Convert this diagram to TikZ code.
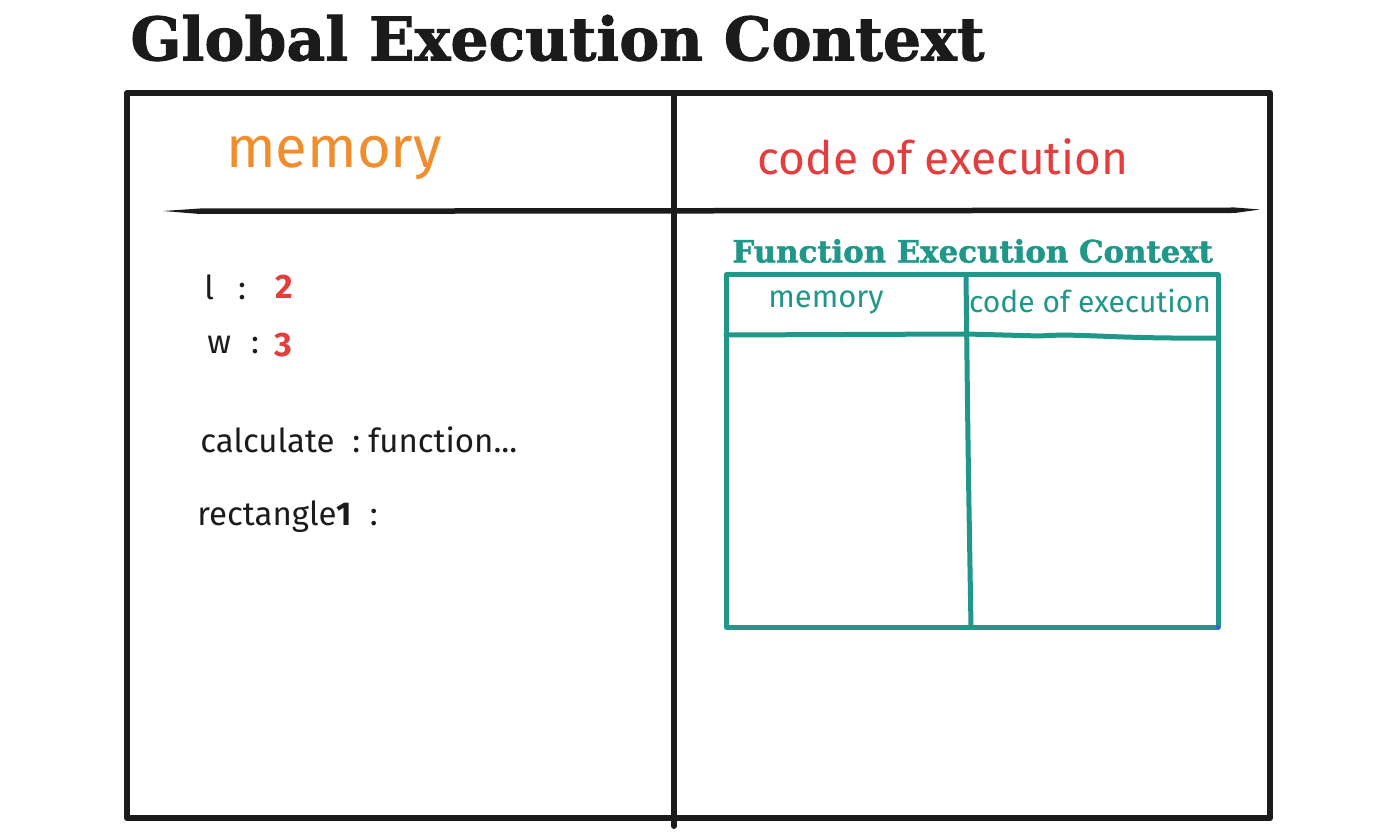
\documentclass[tikz,border=0pt]{standalone}
\usepackage{fontspec}
\setmainfont{Fira Sans}
\newfontfamily\slabfont[FakeBold=1.5]{DejaVu Serif Bold}
\usepackage{tikz}
\definecolor{inkblack}{HTML}{1B1B1B}
\definecolor{memorange}{HTML}{F08E2E}
\definecolor{codered}{HTML}{E43D3D}
\definecolor{fecteal}{HTML}{21978A}

\begin{document}
\begin{tikzpicture}[x=0.5pt,y=-0.5pt,
    frame/.style={draw=inkblack,line width=3pt,line cap=round,line join=round},
    tealframe/.style={draw=fecteal,line width=2.5pt,line cap=round,line join=round},
    hand/.style={inner sep=0pt,text=inkblack,font=\fontsize{16.5}{18}\selectfont},
    value/.style={inner sep=0pt,text=codered,font=\fontsize{17}{18}\selectfont\bfseries}]

            \useasboundingbox (0,0) rectangle (1400,833); % page size

            % Title
            \node[anchor=west,inner sep=0pt,text=inkblack,font=\slabfont\fontsize{30}{32}\selectfont] (gec) at (130,38) {Global Execution Context};

            % Outer frame
            \draw[frame] (127,93) rectangle (1270,818);
            \draw[frame] (674,93) -- (674,826); % middle divider
            \fill[inkblack] (163,211) -- (200,208.5) -- (1235,207.5) -- (1260,209.5) -- (1235,213) -- (200,214) -- cycle; % header line

            % Headings
            \node[inner sep=0pt,text=memorange,font=\fontsize{29}{32}\selectfont] (mem) at (334,158) {memory};
            \node[inner sep=0pt,text=codered,font=\fontsize{23}{26}\selectfont] (coe) at (943,157) {code of execution};

            % Memory entries
            \node[hand,anchor=west] (lkey) at (204,287) {l\hspace{12pt}:};
            \node[value,anchor=west] (lval) at (275,287) {2};
            \node[hand,anchor=west] (wkey) at (207,345) {w\hspace{10pt}:};
            \node[value,anchor=west] (wval) at (274,345) {3};
            \node[hand,anchor=west] (calc) at (200,440) {calculate\hspace{9pt}:\hspace{4pt}function...};
            \node[hand,anchor=west] (rect) at (197,517) {rectangle\textbf{1}\hspace{9pt}:};

            % Function Execution Context
            \node[anchor=west,inner sep=0pt,text=fecteal,font=\slabfont\fontsize{15.4}{17}\selectfont] (fec) at (732,251) {Function Execution Context};
            \draw[tealframe] (726,275) rectangle (1218,627);
            \draw[tealframe] (966,275) .. controls (968,450) .. (971,627); % divider
            \draw[tealframe] (726,335) -- (966,334) -- (1040,336) .. controls (1080,333) and (1110,339) .. (1218,338); % header line
            \fill[blue!70] (1218,627) circle (2); % corner handle
            \node[inner sep=0pt,text=fecteal,font=\fontsize{15.5}{18}\selectfont] (fmem) at (826,302) {memory};
            \node[inner sep=0pt,text=fecteal,font=\fontsize{15}{17}\selectfont] (fcoe) at (1090,301) {code of execution};

\end{tikzpicture}
\end{document}
